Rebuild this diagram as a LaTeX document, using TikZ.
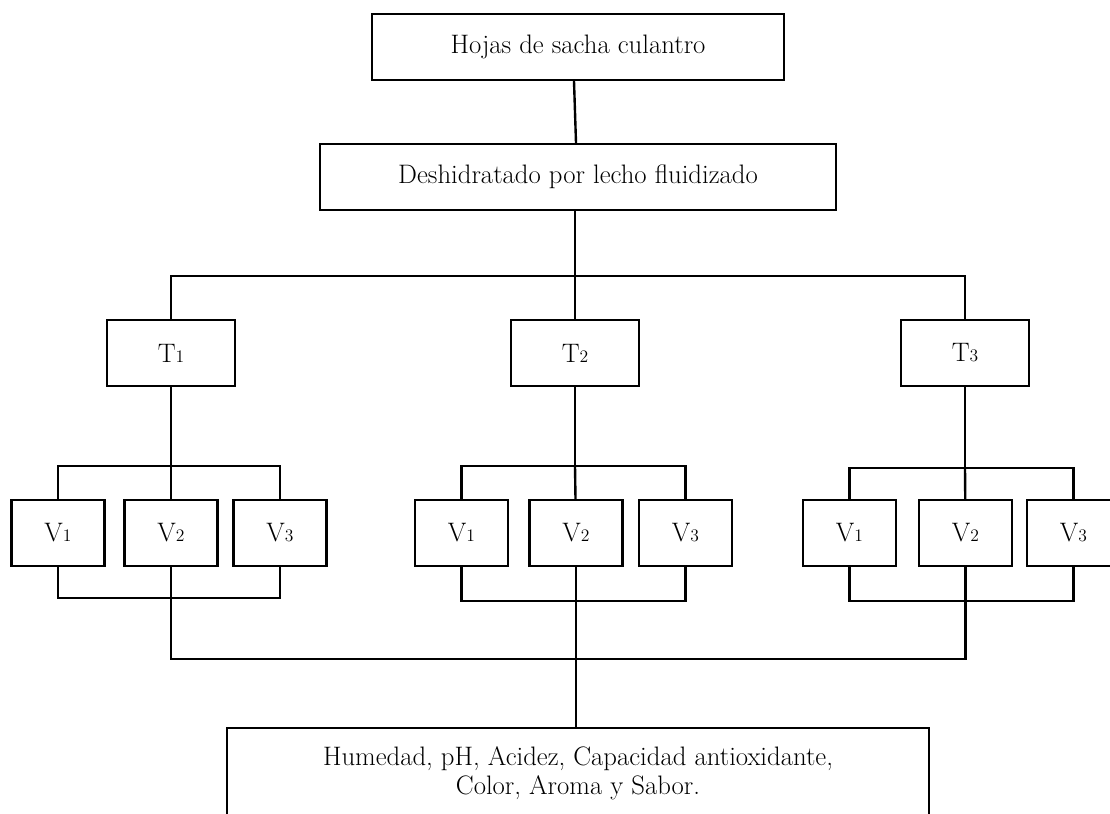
\documentclass[tikz,border=0pt]{standalone}
\newcommand{\sn}[1]{{\fontsize{12.5}{12.5}\selectfont #1}}
\begin{document}
\begin{tikzpicture}[x=0.025cm,y=-0.025cm,line width=1.7pt,
	box/.style={draw=black,line width=1.7pt,minimum height=1.65cm,inner sep=0pt,font=\fontsize{19}{20.6}\selectfont},
	tbox/.style={box,minimum width=3.2cm},
	vbox/.style={box,minimum width=2.325cm}]
	\useasboundingbox (0,0) rectangle (1110,814);
	% top of the flow
	\node[box,minimum width=10.3cm] (leaves) at (578,47) {Hojas de sacha culantro};
	\node[box,minimum width=12.9cm] (dry) at (578,177) {Deshidratado por lecho fluidizado};
	\coordinate (split) at (575,276);
	\draw (leaves.south -| 574,0) -- (dry.north -| 576,0);
	\draw (dry.south -| split) -- (split);
	% treatments
	\node[tbox] (t1) at (171,353) {T\sn{1}};
	\node[tbox] (t2) at (575,353) {T\sn{2}};
	\node[tbox] (t3) at (965,353) {T\sn{3}};
	\draw (t1.north) |- (split) -| (t3.north);
	\draw (split) -- (t2);
	% varieties, first group
	\node[vbox] (v11) at (58,533) {V\sn{1}};
	\node[vbox] (v12) at (171,533) {V\sn{2}};
	\node[vbox] (v13) at (280,533) {V\sn{3}};
	\coordinate (hub1) at (171,466);
	\coordinate (sum1) at (171,598);
	\draw (t1) -- (hub1);
	\draw (v11.north) |- (hub1) -| (v13.north);
	\draw (hub1) -- (v12);
	\draw (v11.south) |- (sum1) -| (v13.south);
	\draw (v12) -- (sum1);
	% second group
	\node[vbox] (v21) at (461.5,533) {V\sn{1}};
	\node[vbox] (v22) at (576,533) {V\sn{2}};
	\node[vbox] (v23) at (685.5,533) {V\sn{3}};
	\coordinate (hub2) at (575,466);
	\coordinate (sum2) at (576,601);
	\draw (t2) -- (hub2);
	\draw (v21.north) |- (hub2) -| (v23.north);
	\draw (hub2) -- (v22);
	\draw (v21.south) |- (sum2) -| (v23.south);
	\draw (v22) -- (sum2);
	% third group
	\node[vbox] (v31) at (849.5,533) {V\sn{1}};
	\node[vbox] (v32) at (965.5,533) {V\sn{2}};
	\node[vbox] (v33) at (1073.5,533) {V\sn{3}};
	\coordinate (hub3) at (965,468);
	\coordinate (sum3) at (965.5,601);
	\draw (t3) -- (hub3);
	\draw (v31.north) |- (hub3) -| (v33.north);
	\draw (hub3) -- (v32);
	\draw (v31.south) |- (sum3) -| (v33.south);
	\draw (v32) -- (sum3);
	% analyses
	\node[box,anchor=north,minimum width=17.55cm,minimum height=2.25cm,align=center] (sink) at (578,727)
		{Humedad, pH, Acidez, Capacidad antioxidante,\\Color, Aroma y Sabor.};
	\coordinate (join) at (576,659);
	\draw (sum1) |- (join) -| (sum3);
	\draw (sum2) -- (sink.north -| sum2);
\end{tikzpicture}
\end{document}
